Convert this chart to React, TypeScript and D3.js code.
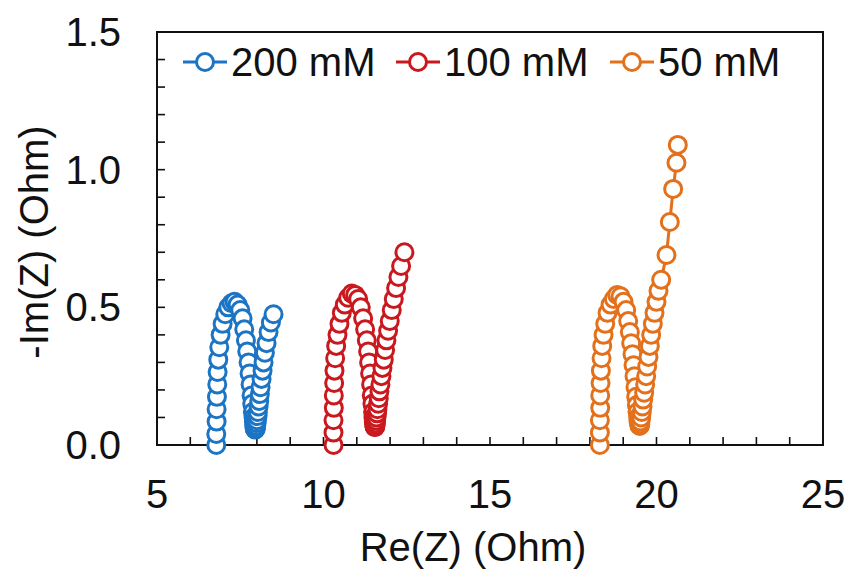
import React from "react";
import * as d3 from "d3";

// Nyquist data (Re in Ohm, -Im in Ohm)
const re200 = [6.78, 6.78, 6.79, 6.79, 6.8, 6.81, 6.82, 6.84, 6.87, 6.91, 6.97, 7.05, 7.14, 7.24, 7.33, 7.42, 7.5, 7.57, 7.62, 7.67, 7.71, 7.75, 7.78, 7.81, 7.84, 7.86, 7.88, 7.9, 7.91, 7.92, 7.93, 7.94, 7.95, 7.96, 7.97, 7.98, 7.99, 8.0, 8.02, 8.03, 8.05, 8.07, 8.09, 8.11, 8.14, 8.17, 8.2, 8.24, 8.29, 8.35, 8.42, 8.5];
const im200 = [0.0, 0.04, 0.085, 0.13, 0.175, 0.22, 0.265, 0.31, 0.355, 0.4, 0.44, 0.475, 0.5, 0.515, 0.52, 0.51, 0.49, 0.46, 0.42, 0.38, 0.34, 0.3, 0.26, 0.22, 0.18, 0.15, 0.12, 0.1, 0.085, 0.072, 0.063, 0.058, 0.056, 0.058, 0.063, 0.07, 0.08, 0.09, 0.105, 0.12, 0.14, 0.16, 0.185, 0.21, 0.24, 0.27, 0.3, 0.335, 0.37, 0.41, 0.445, 0.475];

const re100 = [10.3, 10.3, 10.3, 10.31, 10.31, 10.32, 10.33, 10.35, 10.38, 10.42, 10.48, 10.55, 10.64, 10.74, 10.85, 10.95, 11.04, 11.12, 11.19, 11.25, 11.3, 11.34, 11.37, 11.4, 11.43, 11.45, 11.47, 11.49, 11.5, 11.51, 11.52, 11.53, 11.54, 11.55, 11.56, 11.57, 11.58, 11.59, 11.61, 11.62, 11.64, 11.66, 11.68, 11.71, 11.74, 11.77, 11.81, 11.85, 11.89, 11.94, 11.99, 12.05, 12.11, 12.18, 12.25, 12.33, 12.43];
const im100 = [0.0, 0.045, 0.09, 0.135, 0.18, 0.225, 0.27, 0.315, 0.36, 0.4, 0.44, 0.48, 0.51, 0.535, 0.55, 0.545, 0.53, 0.5, 0.46, 0.42, 0.38, 0.34, 0.3, 0.26, 0.22, 0.18, 0.15, 0.12, 0.1, 0.085, 0.075, 0.068, 0.065, 0.066, 0.07, 0.078, 0.088, 0.1, 0.115, 0.13, 0.15, 0.17, 0.195, 0.22, 0.25, 0.28, 0.31, 0.345, 0.38, 0.415, 0.45, 0.49, 0.53, 0.57, 0.61, 0.65, 0.7];

const re50 = [18.3, 18.3, 18.3, 18.31, 18.31, 18.32, 18.33, 18.35, 18.37, 18.41, 18.46, 18.53, 18.62, 18.72, 18.82, 18.92, 19.01, 19.09, 19.15, 19.2, 19.24, 19.28, 19.31, 19.34, 19.37, 19.39, 19.41, 19.43, 19.45, 19.46, 19.48, 19.49, 19.5, 19.51, 19.52, 19.54, 19.56, 19.58, 19.6, 19.63, 19.66, 19.69, 19.72, 19.76, 19.8, 19.84, 19.89, 19.94, 20.0, 20.06, 20.14, 20.3, 20.4, 20.5, 20.6, 20.64];
const im50 = [0.0, 0.045, 0.09, 0.135, 0.18, 0.225, 0.27, 0.315, 0.36, 0.4, 0.44, 0.48, 0.51, 0.53, 0.545, 0.54, 0.52, 0.49, 0.45, 0.41, 0.37, 0.33, 0.29, 0.25, 0.21, 0.175, 0.145, 0.12, 0.1, 0.085, 0.075, 0.07, 0.07, 0.075, 0.085, 0.1, 0.12, 0.14, 0.165, 0.19, 0.22, 0.25, 0.285, 0.32, 0.36, 0.4, 0.44, 0.48, 0.52, 0.56, 0.6, 0.69, 0.81, 0.93, 1.025, 1.09];

const labels = ["200 mM", "100 mM", "50 mM"];
const colors = ["#1c74c4", "#c9191f", "#e3711c"];
const xTickLabels = [5, 10, 15, 20, 25];
const yTickLabels = [0.0, 0.5, 1.0, 1.5];

const W = 849;
const H = 573;
const left = 157, right = 823, top = 32, bottom = 445;
const font = "'Liberation Sans', Arial, sans-serif";

const App = () => {
  const x = d3.scaleLinear().domain([5, 25]).range([left, right]);
  const y = d3.scaleLinear().domain([0, 1.5]).range([bottom, top]);

  const series = [
    { re: re200, im: im200 },
    { re: re100, im: im100 },
    { re: re50, im: im50 },
  ].map((s, i) => ({
    label: labels[i],
    color: colors[i],
    pts: s.re.map((r, j) => [r, s.im[j]] as [number, number]),
  }));

  const line = d3.line<[number, number]>().x(d => x(d[0])).y(d => y(d[1]));

  const xMinor = d3.range(6, 25, 1);
  const yMinor = d3.range(1, 15).map(v => v / 10);
  const legendX = [205, 418, 632];
  const legendY = 62;

  return (
    <div style={{ position: "absolute", left: 0, top: 0 }}>
      <svg width={W} height={H} style={{ display: "block", background: "#fff" }} fontFamily={font}>
        {/* ticks, inward */}
        {xMinor.map(v => (
          <line key={"xt" + v} x1={x(v)} x2={x(v)} y1={bottom} y2={bottom - 8} stroke="#111" strokeWidth={1.6} />
        ))}
        {yMinor.map(v => (
          <line key={"yt" + v} x1={left} x2={left + 8} y1={y(v)} y2={y(v)} stroke="#111" strokeWidth={1.6} />
        ))}
        <rect x={left} y={top} width={right - left} height={bottom - top} fill="none" stroke="#111" strokeWidth={2} />

        {/* tick labels */}
        {xTickLabels.map(v => (
          <text key={"xl" + v} x={x(v)} y={508} textAnchor="middle" fontSize={40} fill="#111">{v}</text>
        ))}
        {yTickLabels.map(v => (
          <text key={"yl" + v} x={121} y={y(v) + 14} textAnchor="end" fontSize={40} fill="#111">{v.toFixed(1)}</text>
        ))}

        {/* axis titles */}
        <text x={473} y={561} textAnchor="middle" fontSize={40} fill="#111">Re(Z) (Ohm)</text>
        <text transform={`translate(48, ${242}) rotate(-90)`} textAnchor="middle" fontSize={40} fill="#111">-Im(Z) (Ohm)</text>

        {/* data */}
        {series.map(s => (
          <g key={s.label}>
            <path d={line(s.pts) || ""} fill="none" stroke={s.color} strokeWidth={3} />
            {s.pts.map((p, j) => (
              <circle key={j} cx={x(p[0])} cy={y(p[1])} r={8.5} fill="#fff" stroke={s.color} strokeWidth={3} />
            ))}
          </g>
        ))}

        {/* legend */}
        {series.map((s, i) => (
          <g key={"lg" + s.label}>
            <line x1={legendX[i] - 22} x2={legendX[i] + 22} y1={legendY} y2={legendY} stroke={s.color} strokeWidth={3} />
            <circle cx={legendX[i]} cy={legendY} r={8.5} fill="#fff" stroke={s.color} strokeWidth={3} />
            <text x={legendX[i] + 26} y={legendY + 14} fontSize={40} fill="#111">{s.label}</text>
          </g>
        ))}
      </svg>
    </div>
  );
};

export default App;
